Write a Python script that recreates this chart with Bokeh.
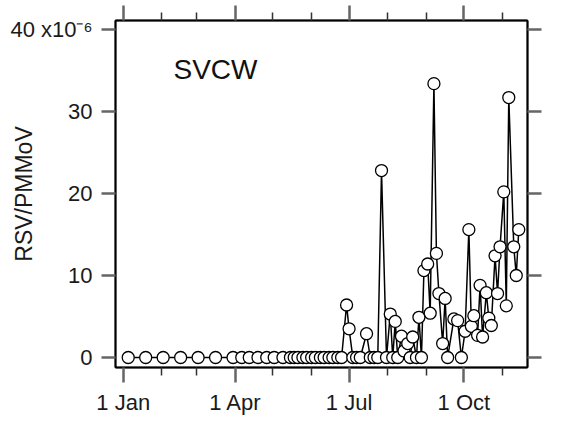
import pandas as pd
from bokeh.plotting import figure
from bokeh.models import Range1d, FixedTicker, LinearAxis, Label, ColumnDataSource
from bokeh.embed import file_html
from bokeh.resources import INLINE

# ---------------- data ----------------
year_start = "2022-01-01"
site_name = "SVCW"
y_label = "RSV/PMMoV"

sample_dates = [
    "2022-01-05", "2022-01-19", "2022-02-02", "2022-02-16", "2022-03-02", "2022-03-16",
    "2022-03-30", "2022-04-06", "2022-04-12", "2022-04-19", "2022-04-26", "2022-05-02",
    "2022-05-09", "2022-05-15", "2022-05-18", "2022-05-21", "2022-05-25", "2022-05-28",
    "2022-06-01", "2022-06-04", "2022-06-08", "2022-06-11", "2022-06-15", "2022-06-18",
    "2022-06-22", "2022-06-25", "2022-06-29", "2022-07-01", "2022-07-04", "2022-07-07",
    "2022-07-10", "2022-07-15", "2022-07-18", "2022-07-21", "2022-07-24", "2022-07-27",
    "2022-07-31", "2022-08-03", "2022-08-05", "2022-08-07", "2022-08-09", "2022-08-12",
    "2022-08-14", "2022-08-17", "2022-08-19", "2022-08-21", "2022-08-24", "2022-08-26",
    "2022-08-28", "2022-08-30", "2022-09-02", "2022-09-04", "2022-09-07", "2022-09-09",
    "2022-09-11", "2022-09-14", "2022-09-16", "2022-09-18", "2022-09-23", "2022-09-26",
    "2022-09-29", "2022-10-02", "2022-10-05", "2022-10-07", "2022-10-09", "2022-10-12",
    "2022-10-14", "2022-10-16", "2022-10-19", "2022-10-21", "2022-10-23", "2022-10-26",
    "2022-10-28", "2022-10-30", "2022-11-02", "2022-11-04", "2022-11-06", "2022-11-10",
    "2022-11-12", "2022-11-14",
]
# RSV/PMMoV in units of 1e-6
rsv_pmmov = [
    0, 0, 0, 0, 0, 0,
    0, 0, 0, 0, 0, 0,
    0, 0, 0, 0, 0, 0,
    0, 0, 0, 0, 0, 0,
    0, 0, 6.4, 3.5, 0, 0,
    0, 2.9, 0, 0, 0, 22.8,
    0, 5.3, 0, 4.4, 0, 2.6,
    0.8, 1.7, 0, 2.5, 0, 4.9,
    0, 10.6, 11.4, 5.4, 33.4, 12.7,
    7.8, 1.7, 7.2, 0, 4.7, 4.5,
    0, 3.2, 15.6, 3.8, 5.1, 2.7,
    8.8, 2.5, 7.9, 4.8, 3.9, 12.4,
    7.8, 13.5, 20.2, 6.3, 31.7, 13.5,
    10.0, 15.6,
]

x_major_dates = ["2022-01-01", "2022-04-01", "2022-07-01", "2022-10-01"]
x_major_labels = ["1 Jan", "1 Apr", "1 Jul", "1 Oct"]
x_minor_dates = ["2022-02-01", "2022-03-01", "2022-05-01", "2022-06-01",
                 "2022-08-01", "2022-09-01", "2022-11-01"]
y_ticks = [0, 10, 20, 30, 40]
y_tick_labels = ["0", "10", "20", "30", "40 x10\u207b\u2076"]

# ---------------- helpers ----------------
t0 = pd.Timestamp(year_start)


def doy(ds):
    return [int((pd.Timestamp(d) - t0).days) for d in ds]


x_days = doy(sample_dates)
x_major = doy(x_major_dates)
x_minor = doy(x_minor_dates)

src = ColumnDataSource(dict(x=x_days, y=rsv_pmmov))

FONT = "Liberation Sans"
W, H = 579, 445

p = figure(width=W, height=H, output_backend="svg", toolbar_location=None,
           x_range=Range1d(-6.2, 324), y_range=Range1d(-1.22, 41.1),
           min_border_left=115, min_border_right=52, min_border_top=20,
           min_border_bottom=78, x_axis_type=None, y_axis_type=None)
p.xgrid.visible = False
p.ygrid.visible = False
p.outline_line_color = "black"
p.outline_line_width = 1.5
p.background_fill_color = "white"
p.border_fill_color = "white"

xt = FixedTicker(ticks=x_major, minor_ticks=x_minor)
yt = FixedTicker(ticks=y_ticks, minor_ticks=[])


def style_axis(ax, tick_out, minor_out):
    ax.axis_line_color = "black"
    ax.axis_line_width = 2
    ax.major_tick_line_color = "#666666"
    ax.major_tick_line_width = 2.5
    ax.major_tick_in = 0
    ax.major_tick_out = tick_out
    ax.minor_tick_line_color = "#333333"
    ax.minor_tick_line_width = 1.5
    ax.minor_tick_in = 0
    ax.minor_tick_out = minor_out
    ax.major_label_text_font = FONT
    ax.major_label_text_font_size = "22px"
    ax.major_label_text_color = "#1a1a1a"


bottom = LinearAxis(ticker=xt,
                    major_label_overrides={d: l for d, l in zip(x_major, x_major_labels)})
style_axis(bottom, 15, 8)
bottom.major_label_standoff = 7
p.add_layout(bottom, "below")

top = LinearAxis(ticker=xt, major_label_overrides={d: "" for d in x_major})
style_axis(top, 15, 8)
top.major_label_text_font_size = "1px"
top.major_label_standoff = 0
p.add_layout(top, "above")

left = LinearAxis(ticker=yt,
                  major_label_overrides={t: l for t, l in zip(y_ticks, y_tick_labels)})
style_axis(left, 14, 0)
left.major_label_standoff = 9
left.axis_label = y_label
left.axis_label_text_font = FONT
left.axis_label_text_font_size = "23px"
left.axis_label_text_font_style = "normal"
left.axis_label_text_color = "#1a1a1a"
left.axis_label_standoff = -30
p.add_layout(left, "left")

right = LinearAxis(ticker=yt, major_label_overrides={t: "" for t in y_ticks})
style_axis(right, 14, 0)
right.major_label_text_font_size = "1px"
right.major_label_standoff = 0
p.add_layout(right, "right")

# series
p.line("x", "y", source=src, line_color="black", line_width=1.5)
p.scatter("x", "y", source=src, size=12, fill_color="white",
          line_color="black", line_width=1.3)

# panel title inside the frame
p.add_layout(Label(x=40.3, y=35.1, text=site_name, text_font=FONT,
                   text_font_size="28px", text_color="#111111",
                   text_align="left", text_baseline="alphabetic"))

open("out.html", "w").write(file_html(p, INLINE))
